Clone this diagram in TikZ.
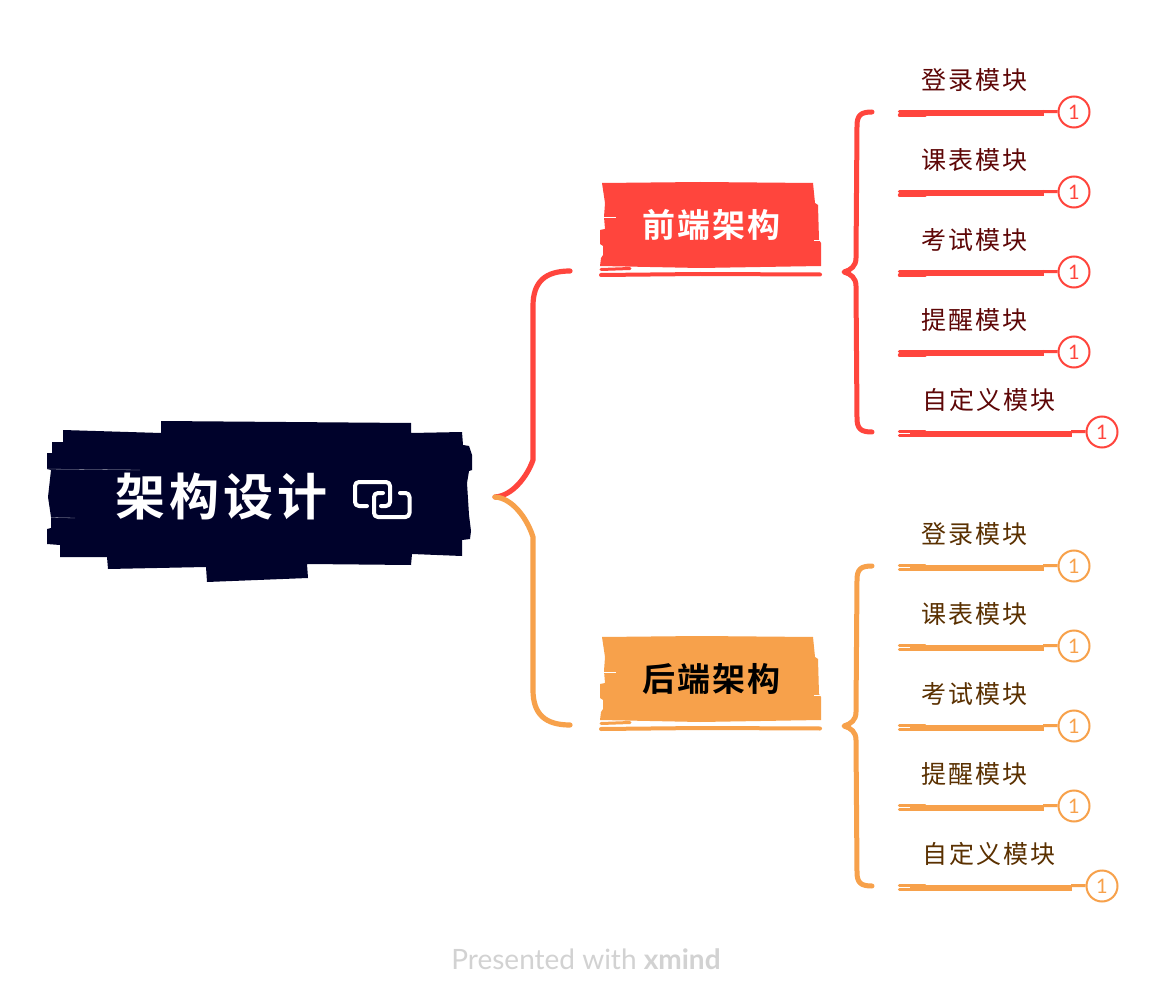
\documentclass[tikz,border=0pt]{standalone}
\usepackage{fontspec}
\setmainfont{Lato}
\newfontfamily\cjkleaf[LetterSpace=8]{Noto Sans CJK SC}
\newfontfamily\cjktopic[LetterSpace=6,BoldFont={Noto Sans CJK SC Bold}]{Noto Sans CJK SC}
\newfontfamily\cjkroot[LetterSpace=8,BoldFont={Noto Sans CJK SC Bold}]{Noto Sans CJK SC}
\definecolor{redc}{HTML}{FF453D}
\definecolor{orangec}{HTML}{F7A14B}
\definecolor{navyc}{HTML}{00022B}
\definecolor{redtxt}{HTML}{5E0707}
\definecolor{orangetxt}{HTML}{5A3000}
\definecolor{foot}{HTML}{D2D2D2}
\tikzset{
  leaftext/.style={inner sep=0pt,font={\fontsize{25}{28}\selectfont\cjkleaf}},
  toptext/.style={inner sep=0pt,font={\fontsize{33}{36}\selectfont\cjktopic\bfseries}},
  roottext/.style={inner sep=0pt,white,font={\fontsize{50}{54}\selectfont\cjkroot\bfseries}},
  badge/.style={circle,draw,fill=white,line width=2pt,minimum size=31pt,inner sep=0pt,font={\fontsize{20}{21}\selectfont}},
  branch/.style={line width=5.2pt,line cap=round,line join=round},
  brk/.style={line width=5pt,line cap=round,line join=round},
  ubar/.style={line width=6pt},
  ustroke/.style={line width=3.4pt,line cap=round},
  utail/.style={line width=3pt},
  scratch/.style={white,line width=1pt},
}
% leaf: id, row y, text, colour, text colour, text x, bar end x, badge x
\newcommand{\leaftopic}[8]{%
  \node[leaftext,text=#5] (t#1) at (#6,#2-32) {#3};
  \coordinate (a#1) at (910,#2+1.5);
  \coordinate (b#1) at (#7,#2+1.5);
  \coordinate (c#1) at (#7-1,#2-0.5);
  \node[badge,draw=#4,text=#4] (n#1) at (#8,#2) {1};
  \draw[ustroke,#4] (899.5,#2-0.5) -- (925,#2-0.5);
  \draw[ustroke,#4] (899.5,#2+3.2) -- (925,#2+3.2);
  \draw[ubar,#4] (a#1) -- (b#1);
  \draw[utail,#4] (c#1) -- (n#1);
}
% topic blob: id, y offset, colour, text colour, text
\newcommand{\topicblob}[5]{%
  \fill[#3] (602,183+#2) -- (700,182+#2) -- (813,183+#2) -- (815,203+#2) -- (818,205+#2) -- (819,240+#2)
    -- (821,243+#2) -- (821,266+#2) -- (700,268+#2) -- (600,266+#2) -- (601,258+#2) -- (603,255+#2) -- (603,246+#2) -- (600,244+#2)
    -- (600,230+#2) -- (605,229+#2) -- (604,217+#2) -- (605,203+#2) -- cycle;
  \draw[scratch] (602,218+#2) -- (616,218+#2);
  \draw[scratch] (814,241+#2) -- (822,241+#2);
  \draw[#3,line width=4pt,line cap=round] (601,275+#2) -- (700,274+#2) -- (820,274.5+#2);
  \draw[#3,line width=3pt,line cap=round] (601,269.5+#2) -- (630,268.5+#2);
  \node[toptext,text=#4] (#1) at (711.5,225+#2) {#5};
}
% bracket: y offset, colour
\newcommand{\bracketpath}[2]{%
  \coordinate (bt) at (872,112+#1);
  \coordinate (bm) at (844,272+#1);
  \coordinate (bb) at (872,432+#1);
  \draw[brk,#2] (bt) .. controls (861,112+#1) and (857,115+#1) .. (857,126+#1)
    -- (856,258+#1) .. controls (856,266+#1) and (851,270+#1) .. (bm)
    .. controls (851,274+#1) and (856,278+#1) .. (856,286+#1)
    -- (857,418+#1) .. controls (857,429+#1) and (861,432+#1) .. (bb);
}
\begin{document}
\begin{tikzpicture}[x=1pt,y=-1pt]
\useasboundingbox (0,0) rectangle (1168,1008);
\fill[white] (0,0) rectangle (1168,1008);

% root blob
\fill[navyc] (161,421) -- (411,423) -- (411,433) -- (462,432) -- (463,445) -- (469,446) -- (472,455)
  -- (472,470) -- (469,471) -- (467,483) -- (469,515) -- (471,531) -- (470,539) -- (462,540) -- (462,556)
  -- (412,554) -- (411,565) -- (307,564) -- (308,578) -- (207,582) -- (206,567) -- (108,569) -- (107,557)
  -- (60,557) -- (60,545) -- (47,544) -- (47,529) -- (51,528) -- (51,517) -- (48,497) -- (51,470)
  -- (47,469) -- (47,453) -- (52,453) -- (52,442) -- (63,442) -- (63,430) -- (161,433) -- cycle;
\draw[white!70!navyc,line width=0.3pt] (47,469) -- (140,470);
\draw[white!70!navyc,line width=0.3pt] (51,517.5) -- (75,518);
\node[roottext] (root) at (221,497) {架构设计};
% link icon
\draw[white,line width=4pt,line cap=round,line join=round,rounded corners=4pt]
  (367,506) -- (355,506) -- (355,482) -- (390,482) -- (390,506) -- (381,506);
\draw[white,line width=4pt,line cap=round,line join=round,rounded corners=4pt]
  (400,493) -- (409.5,493) -- (409.5,517) -- (374,517) -- (374,493) -- (383,493);

\coordinate (hub) at (495,497);
\coordinate (redend) at (570,271);
\coordinate (orgend) at (570,725);
\draw[branch,redc] (hub) .. controls (512,496) and (527,477) .. (533,460)
  -- (533,306) .. controls (533,282) and (545,271) .. (redend);
\draw[branch,orangec] (hub) .. controls (512,498) and (527,518) .. (533,537)
  -- (533,690) .. controls (533,714) and (545,725) .. (orgend);

\topicblob{front}{0}{redc}{white}{前端架构}
\topicblob{back}{454}{orangec}{black}{后端架构}
\bracketpath{0}{redc}
\bracketpath{454}{orangec}

\leaftopic{r1}{112}{登录模块}{redc}{redtxt}{974.5}{1044}{1074}
\leaftopic{r2}{192}{课表模块}{redc}{redtxt}{974.5}{1044}{1074}
\leaftopic{r3}{272}{考试模块}{redc}{redtxt}{974.5}{1044}{1074}
\leaftopic{r4}{352}{提醒模块}{redc}{redtxt}{974.5}{1044}{1074}
\leaftopic{r5}{432}{自定义模块}{redc}{redtxt}{989}{1072}{1102}
\leaftopic{o1}{566}{登录模块}{orangec}{orangetxt}{974.5}{1044}{1074}
\leaftopic{o2}{646}{课表模块}{orangec}{orangetxt}{974.5}{1044}{1074}
\leaftopic{o3}{726}{考试模块}{orangec}{orangetxt}{974.5}{1044}{1074}
\leaftopic{o4}{806}{提醒模块}{orangec}{orangetxt}{974.5}{1044}{1074}
\leaftopic{o5}{886}{自定义模块}{orangec}{orangetxt}{989}{1072}{1102}

\node[inner sep=0pt,text=foot,font={\fontsize{28}{30}\selectfont}] (footer) at (586,959.5) {Presented with \textbf{xmind}};
\end{tikzpicture}
\end{document}
